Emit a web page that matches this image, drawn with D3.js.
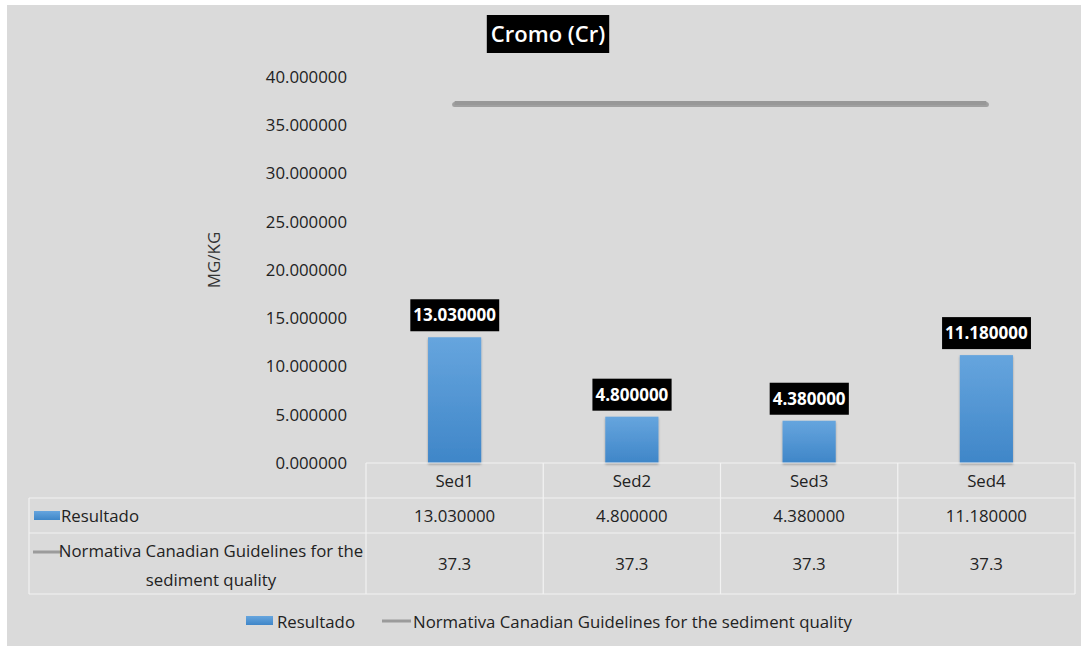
<!DOCTYPE html>
<html>
<head>
<meta charset="utf-8">
<script src="https://cdn.jsdelivr.net/npm/d3@7"></script>
<style>
  body{margin:0;background:#fff;}
  text{font-family:'Open Sans','Noto Sans',sans-serif;}
</style>
</head>
<body>
<div class="chart-container"></div>
<script>
// data
const categories = ['Sed1','Sed2','Sed3','Sed4'];
const resultado = [13.03, 4.8, 4.38, 11.18];
const normativa = [37.3, 37.3, 37.3, 37.3];
const resultadoLabels = ['13.030000','4.800000','4.380000','11.180000'];
const normativaLabels = ['37.3','37.3','37.3','37.3'];
const seriesNames = ['Resultado','Normativa Canadian Guidelines for the sediment quality'];
const chartTitle = 'Cromo (Cr)';
const yTitle = 'MG/KG';

const svg_width = 1090;
const svg_height = 646;
const textColor = '#222';
const fontSize = '16.8px';

const svg = d3.select('.chart-container').append('svg')
  .attr('width',svg_width).attr('height',svg_height);

const defs = svg.append('defs');
const grad = defs.append('linearGradient').attr('id','barGrad')
  .attr('x1',0).attr('y1',0).attr('x2',0).attr('y2',1);
grad.append('stop').attr('offset','0%').attr('stop-color','#66a5de');
grad.append('stop').attr('offset','100%').attr('stop-color','#3f86c8');
defs.append('filter').attr('id','shadow').attr('x','-20%').attr('y','-20%').attr('width','140%').attr('height','160%')
  .append('feDropShadow').attr('dx',0).attr('dy',1.5).attr('stdDeviation',1)
  .attr('flood-color','#000').attr('flood-opacity',0.3);

// panel
svg.append('rect').attr('x',7).attr('y',5).attr('width',1074).attr('height',641)
  .style('fill','#dadada');

//scales
const xScale = d3.scaleBand().domain(categories).range([366,1075]);
const barScale = d3.scaleBand().domain(categories).range([366,1075])
  .paddingInner(0.7).paddingOuter(0.35);
const yScale = d3.scaleLinear().domain([0,40]).range([463,77]);

//y axis
const yAxis = d3.axisLeft(yScale).tickValues(yScale.ticks(8))
  .tickFormat(d3.format('.6f')).tickSize(0).tickPadding(19);
const yAxisDraw = svg.append('g').attr('transform','translate(366,0)').call(yAxis);
yAxisDraw.select('.domain').remove();
yAxisDraw.selectAll('text').style('font-size',fontSize).style('fill',textColor)
  .style('font-family',"'Open Sans',sans-serif");

svg.append('text').attr('transform','translate(214,260) rotate(-90)')
  .attr('text-anchor','middle').attr('dy','0.35em')
  .style('font-size','17px').style('fill','#333').text(yTitle);

//bars
const barData = categories.map((c,i)=>({cat:c, value:resultado[i], label:resultadoLabels[i]}));
svg.append('g').attr('class','bars').selectAll('rect').data(barData).join('rect')
  .attr('x',d=>barScale(d.cat)).attr('y',d=>yScale(d.value))
  .attr('width',barScale.bandwidth()).attr('height',d=>yScale(0)-yScale(d.value))
  .style('fill','url(#barGrad)').attr('filter','url(#shadow)');

//normativa line (soft shadow drawn underneath)
const lineData = categories.map((c,i)=>({cat:c, value:normativa[i]}));
const lineGen = d3.line().x(d=>xScale(d.cat)+xScale.bandwidth()/2).y(d=>yScale(d.value));
svg.append('path').datum(lineData).attr('d',lineGen)
  .attr('transform','translate(0,1.5)')
  .style('fill','none').style('stroke','#7a7a7a').style('stroke-width',5)
  .style('stroke-linecap','round').style('stroke-opacity',0.6);
svg.append('path').datum(lineData).attr('d',lineGen)
  .style('fill','none').style('stroke','#989898').style('stroke-width',4);

//data labels
const labels = svg.append('g').attr('class','labels').selectAll('g').data(barData).join('g')
  .attr('transform',d=>`translate(${barScale(d.cat)+barScale.bandwidth()/2},${yScale(d.value)-22})`);
labels.append('text').attr('text-anchor','middle').attr('dy','0.36em')
  .style('font-size','17px').style('font-weight','bold').style('fill','#fff')
  .text(d=>d.label);
labels.each(function(){
  const g = d3.select(this);
  const b = g.select('text').node().getBBox();
  g.insert('rect','text').attr('x',b.x-3).attr('y',-16)
    .attr('width',b.width+6).attr('height',32).style('fill','#000');
});

//title
const title = svg.append('g').attr('transform','translate(548,34)');
const titleText = title.append('text').attr('text-anchor','middle').attr('dy','0.36em')
  .style('font-size','22px').style('font-weight','600').style('fill','#fff').text(chartTitle);
const tb = titleText.node().getBBox();
title.insert('rect','text').attr('x',tb.x-4).attr('y',-19)
  .attr('width',tb.width+8).attr('height',38).style('fill','#000');

//data table
const table = svg.append('g').attr('class','table');
const rowTop = [463,498,533,594];
const tableLine = '#f2f2f2';
// horizontal lines
table.append('line').attr('x1',366).attr('x2',1075).attr('y1',rowTop[0]).attr('y2',rowTop[0]);
rowTop.slice(1).forEach(y=>{
  table.append('line').attr('x1',29).attr('x2',1075).attr('y1',y).attr('y2',y);
});
// vertical lines
table.append('line').attr('x1',29).attr('x2',29).attr('y1',rowTop[1]).attr('y2',rowTop[3]);
categories.forEach(c=>{
  table.append('line').attr('x1',xScale(c)).attr('x2',xScale(c)).attr('y1',rowTop[0]).attr('y2',rowTop[3]);
});
table.append('line').attr('x1',1075).attr('x2',1075).attr('y1',rowTop[0]).attr('y2',rowTop[3]);
table.selectAll('line').style('stroke',tableLine).style('stroke-width',1.2);

const cellX = c=>xScale(c)+xScale.bandwidth()/2;
const cellStyle = sel=>sel.attr('text-anchor','middle').attr('dy','0.36em')
  .style('font-size',fontSize).style('fill',textColor);
table.append('g').selectAll('text').data(categories).join('text')
  .attr('x',cellX).attr('y',(rowTop[0]+rowTop[1])/2).call(cellStyle).text(d=>d);
table.append('g').selectAll('text').data(categories).join('text')
  .attr('x',cellX).attr('y',(rowTop[1]+rowTop[2])/2).call(cellStyle).text((d,i)=>resultadoLabels[i]);
table.append('g').selectAll('text').data(categories).join('text')
  .attr('x',cellX).attr('y',(rowTop[2]+rowTop[3])/2).call(cellStyle).text((d,i)=>normativaLabels[i]);

// row headers
table.append('rect').attr('x',34).attr('y',511).attr('width',26).attr('height',9)
  .style('fill','url(#barGrad)');
table.append('text').attr('x',61).attr('y',(rowTop[1]+rowTop[2])/2).attr('dy','0.36em')
  .style('font-size',fontSize).style('fill',textColor).text(seriesNames[0]);
table.append('line').attr('x1',33).attr('x2',61).attr('y1',552).attr('y2',552)
  .style('stroke','#9b9b9b').style('stroke-width',3);
const words = seriesNames[1].split(' ');
const rowLabel = table.append('text').attr('text-anchor','middle')
  .style('font-size',fontSize).style('fill',textColor);
rowLabel.append('tspan').attr('x',211).attr('y',551).attr('dy','0.36em').text(words.slice(0,5).join(' '));
rowLabel.append('tspan').attr('x',211).attr('y',580).attr('dy','0.36em').text(words.slice(5).join(' '));

//legend
const legend = svg.append('g').attr('class','legend');
legend.append('rect').attr('x',246).attr('y',616).attr('width',27).attr('height',9)
  .style('fill','url(#barGrad)');
legend.append('text').attr('x',277).attr('y',622).attr('dy','0.36em')
  .style('font-size',fontSize).style('fill',textColor).text(seriesNames[0]);
legend.append('line').attr('x1',382).attr('x2',411).attr('y1',621).attr('y2',621)
  .style('stroke','#9b9b9b').style('stroke-width',3);
legend.append('text').attr('x',413).attr('y',622).attr('dy','0.36em')
  .style('font-size',fontSize).style('fill',textColor).text(seriesNames[1]);
</script>
</body>
</html>
